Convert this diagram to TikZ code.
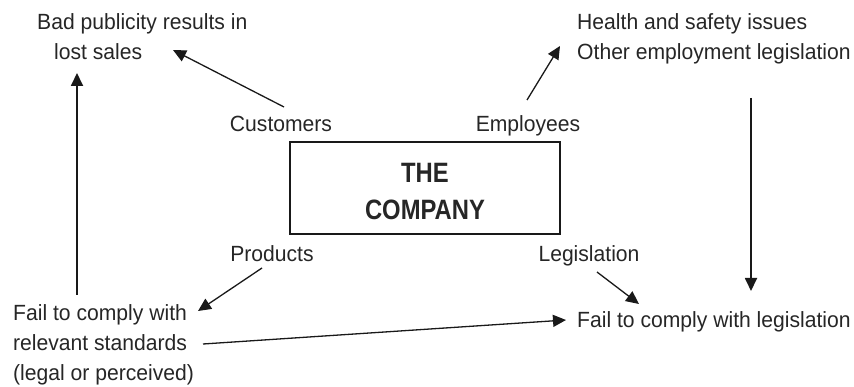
\documentclass[tikz,border=0pt]{standalone}
\usepackage{fontspec}
\setmainfont[FakeStretch=0.96]{Liberation Sans}
\newfontfamily\condfont[FakeStretch=0.85]{Liberation Sans}
\usetikzlibrary{arrows.meta}
\begin{document}
\begin{tikzpicture}[x=1pt,y=-1pt,
  lbl/.style={inner sep=0pt, font=\fontsize{22}{30}\selectfont, text=black!85},
  ttl/.style={inner sep=0pt, anchor=base, font=\condfont\bfseries\fontsize{28}{37}\selectfont, text=black!85},
  arr/.style={-{Triangle[length=13pt,width=12pt]}, line width=1.3pt, black!90},
  varr/.style={arr, line width=1.8pt},
  compbox/.style={draw, line width=1.4pt, black!90, minimum width=270pt, minimum height=92pt, inner sep=0pt}
]
\useasboundingbox (0,0) rectangle (854,387);
% central box
\node[compbox] (co) at (425,188) {};
\node[ttl] (the) at (425,183) {THE};
\node[ttl] (comp) at (425,220) {COMPANY};
% stakeholder labels
\node[lbl, anchor=base] (cust) at (281,132) {Customers};
\node[lbl, anchor=base] (emp) at (528,132) {Employees};
\node[lbl, anchor=base] (prod) at (272,262) {Products};
\node[lbl, anchor=base] (legis) at (589,262) {Legislation};
% outcome texts
\node[lbl, anchor=base west] (bad1) at (37,30) {Bad publicity results in};
\node[lbl, anchor=base west] (bad2) at (54,60) {lost sales};
\node[lbl, anchor=base west] (hs1) at (577,30) {Health and safety issues};
\node[lbl, anchor=base west] (hs2) at (577,60) {Other employment legislation};
\node[lbl, anchor=base west] (fs1) at (13,320) {Fail to comply with};
\node[lbl, anchor=base west] (fs2) at (13,350) {relevant standards};
\node[lbl, anchor=base west] (fs3) at (13,380) {(legal or perceived)};
\node[lbl, anchor=base west] (fl) at (577,327) {Fail to comply with legislation};
% connector ends
\coordinate (c1s) at (284,107); \coordinate (c1e) at (173,50);
\coordinate (c2s) at (77,295);  \coordinate (c2e) at (77,73);
\coordinate (c3s) at (527,100); \coordinate (c3e) at (560,46);
\coordinate (c4s) at (751,98);  \coordinate (c4e) at (751,291);
\coordinate (c5s) at (262,268); \coordinate (c5e) at (198,311);
\coordinate (c6s) at (597,272); \coordinate (c6e) at (639,304);
\coordinate (c7s) at (203,344); \coordinate (c7e) at (566,320);
\draw[arr] (c1s) -- (c1e);
\draw[varr] (c2s) -- (c2e);
\draw[arr] (c3s) -- (c3e);
\draw[varr] (c4s) -- (c4e);
\draw[arr] (c5s) -- (c5e);
\draw[arr] (c6s) -- (c6e);
\draw[arr] (c7s) -- (c7e);
\end{tikzpicture}
\end{document}
